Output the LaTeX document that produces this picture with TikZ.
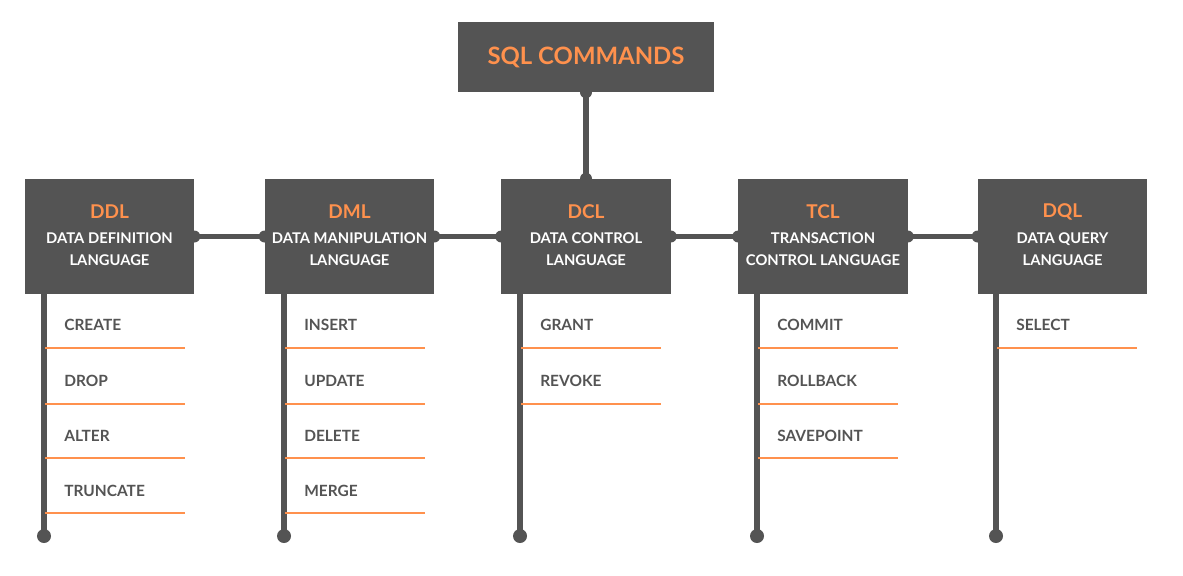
\documentclass[tikz,border=0pt]{standalone}
\usepackage{fontspec}
\setmainfont{Lato}
\definecolor{boxgray}{HTML}{545454}
\definecolor{sqlorange}{HTML}{FF914D}

\begin{document}
\begin{tikzpicture}[x=0.025cm, y=-0.025cm,
    catbox/.style = {fill=boxgray, minimum width=4.225cm, minimum height=2.875cm, inner sep=0pt},
    cattitle/.style = {text=sqlorange, font=\bfseries\fontsize{13.5}{14}\selectfont},
    catname/.style = {text=white, align=center, font=\bfseries\fontsize{10.5}{15.6}\selectfont},
    item/.style = {anchor=west, inner xsep=0pt, text=boxgray, font=\bfseries\fontsize{11}{12}\selectfont},
    link/.style = {boxgray, line width=3.6pt},
    rule/.style = {sqlorange, line width=1.4pt}]

      \useasboundingbox (0,0) rectangle (1183,575);

      % top box
      \node[fill=boxgray, minimum width=6.4cm, minimum height=1.75cm] (sql) at (586,57)
        {\textcolor{sqlorange}{\bfseries\fontsize{17}{18}\selectfont SQL COMMANDS}};

      % the five groups
      \node[catbox] (ddl) at (109.5,236.5) {};
      \node[catbox] (dml) at (349.5,236.5) {};
      \node[catbox] (dcl) at (586,236.5) {};
      \node[catbox] (tcl) at (823,236.5) {};
      \node[catbox] (dql) at (1062.5,236.5) {};

      \node[cattitle] (ddltitle) at (109.5,212) {DDL};
      \node[catname] (ddlname) at (109.5,249) {DATA DEFINITION\\LANGUAGE};
      \node[cattitle] (dmltitle) at (349.5,212) {DML};
      \node[catname] (dmlname) at (349.5,249) {DATA MANIPULATION\\LANGUAGE};
      \node[cattitle] (dcltitle) at (586,212) {DCL};
      \node[catname] (dclname) at (586,249) {DATA CONTROL\\LANGUAGE};
      \node[cattitle] (tcltitle) at (823,212) {TCL};
      \node[catname] (tclname) at (823,249) {TRANSACTION\\CONTROL LANGUAGE};
      \node[cattitle] (dqltitle) at (1062.5,212) {DQL};
      \node[catname] (dqlname) at (1062.5,249) {DATA QUERY\\LANGUAGE};

      % connectors between the boxes
      \draw[link] (sql.south) -- (dcl.north);
      \draw[link] (ddl.east) -- (dml.west);
      \draw[link] (dml.east) -- (dcl.west);
      \draw[link] (dcl.east) -- (tcl.west);
      \draw[link] (tcl.east) -- (dql.west);
      \fill[boxgray] (sql.south) circle (0.15cm);
      \fill[boxgray] (dcl.north) circle (0.15cm);
      \fill[boxgray] (ddl.east) circle (0.15cm);
      \fill[boxgray] (dml.west) circle (0.15cm);
      \fill[boxgray] (dml.east) circle (0.15cm);
      \fill[boxgray] (dcl.west) circle (0.15cm);
      \fill[boxgray] (dcl.east) circle (0.15cm);
      \fill[boxgray] (tcl.west) circle (0.15cm);
      \fill[boxgray] (tcl.east) circle (0.15cm);
      \fill[boxgray] (dql.west) circle (0.15cm);

      % stems under the boxes
      \coordinate (ddlend) at (44,536);
      \coordinate (dmlend) at (284,536);
      \coordinate (dclend) at (520,536);
      \coordinate (tclend) at (757,536);
      \coordinate (dqlend) at (996,536);
      \draw[link] (ddl.south -| ddlend) -- (ddlend);
      \draw[link] (dml.south -| dmlend) -- (dmlend);
      \draw[link] (dcl.south -| dclend) -- (dclend);
      \draw[link] (tcl.south -| tclend) -- (tclend);
      \draw[link] (dql.south -| dqlend) -- (dqlend);
      \fill[boxgray] (ddlend) circle (0.175cm);
      \fill[boxgray] (dmlend) circle (0.175cm);
      \fill[boxgray] (dclend) circle (0.175cm);
      \fill[boxgray] (tclend) circle (0.175cm);
      \fill[boxgray] (dqlend) circle (0.175cm);

      % DDL commands
      \node[item] (create) at (64,325) {CREATE};
      \draw[rule] (45,348) -- (185,348);
      \node[item] (drop) at (64,381) {DROP};
      \draw[rule] (45,404) -- (185,404);
      \node[item] (alter) at (64,436) {ALTER};
      \draw[rule] (45,458) -- (185,458);
      \node[item] (truncate) at (64,491) {TRUNCATE};
      \draw[rule] (45,513) -- (185,513);

      % DML commands
      \node[item] (insert) at (304,325) {INSERT};
      \draw[rule] (285,348) -- (425,348);
      \node[item] (update) at (304,381) {UPDATE};
      \draw[rule] (285,404) -- (425,404);
      \node[item] (delete) at (304,436) {DELETE};
      \draw[rule] (285,458) -- (425,458);
      \node[item] (merge) at (304,491) {MERGE};
      \draw[rule] (285,513) -- (425,513);

      % DCL commands
      \node[item] (grant) at (540,325) {GRANT};
      \draw[rule] (521,348) -- (661,348);
      \node[item] (revoke) at (540,381) {REVOKE};
      \draw[rule] (521,404) -- (661,404);

      % TCL commands
      \node[item] (commit) at (777,325) {COMMIT};
      \draw[rule] (758,348) -- (898,348);
      \node[item] (rollback) at (777,381) {ROLLBACK};
      \draw[rule] (758,404) -- (898,404);
      \node[item] (savepoint) at (777,436) {SAVEPOINT};
      \draw[rule] (758,458) -- (898,458);

      % DQL commands
      \node[item] (select) at (1016,325) {SELECT};
      \draw[rule] (997,348) -- (1137,348);
    \end{tikzpicture}
\end{document}
